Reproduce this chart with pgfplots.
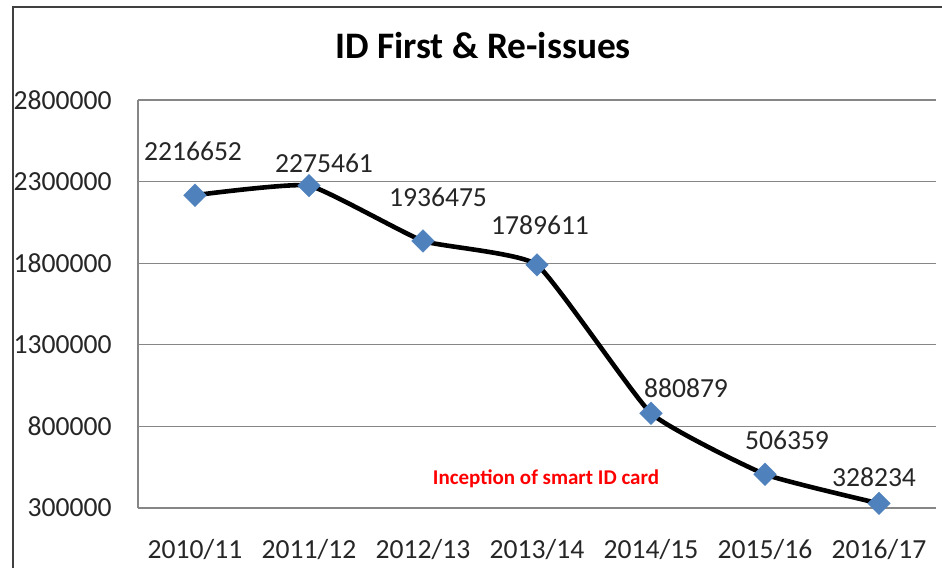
\documentclass[border=0pt]{standalone}
\usepackage{fontspec}
\setmainfont{Carlito}
\usepackage{pgfplots}
\usepackage{pgfplotstable}
\pgfplotsset{compat=1.18}

\definecolor{serblue}{HTML}{4F81BD}
\definecolor{gridgray}{HTML}{868686}

% x, value, label text, label offset (pt)
\pgfplotstableread{
x y lab dx dy
0 2216652 2216652 -1 22
1 2275461 2275461 7.5 11
2 1936475 1936475 7.5 22
3 1789611 1789611 1.5 20
4 880879 880879 17.5 12.5
5 506359 506359 11 17
6 328234 328234 -2.5 13
}\idissues

\begin{document}
\begin{tikzpicture}
\useasboundingbox (0,0) rectangle (471pt,284pt);
\draw[line width=0.8pt, black!75] (6.5pt,0) -- (6.5pt,280.5pt) -- (471pt,280.5pt);

\begin{axis}[
    at={(69pt,30pt)}, anchor=south west,
    scale only axis,
    width=399pt, height=204pt,
    xmin=-0.5, xmax=6.5,
    ymin=300000, ymax=2800000,
    xtick={0,...,6},
    xticklabels={2010/11,2011/12,2012/13,2013/14,2014/15,2015/16,2016/17},
    ytick={300000,800000,1300000,1800000,2300000,2800000},
    scaled y ticks=false,
    /pgf/number format/fixed,
    /pgf/number format/set thousands separator={},
    /pgf/number format/assume math mode=true,
    major tick length=0pt,
    axis x line*=bottom,
    axis y line*=left,
    axis line style={gridgray, line width=0.6pt, -},
    ymajorgrids,
    grid style={gridgray, line width=0.6pt},
    tick label style={font=\fontsize{13.8}{16}\selectfont, text=black!85},
    yticklabel style={anchor=east, inner sep=0pt, xshift=-13pt},
    xticklabel style={anchor=north, inner sep=0pt, yshift=-15.5pt},
    clip=false,
]
\addplot[
    black, line width=2.3pt, smooth, tension=0.25,
    mark=square*, mark size=4pt,
    mark options={solid, rotate=45, fill=serblue, draw=serblue, line width=0.2pt},
    point meta=explicit symbolic,
    visualization depends on={\thisrow{dx} \as \dx},
    visualization depends on={\thisrow{dy} \as \dy},
    nodes near coords,
    every node near coord/.append style={
        anchor=center, inner sep=0pt, text=black!85,
        font=\fontsize{13.8}{16}\selectfont,
        xshift=\dx pt, yshift=\dy pt},
] table[x=x, y=y, meta=lab] {\idissues};
\end{axis}

\node[font=\bfseries\fontsize{18.7}{22}\selectfont] at (241.5pt,261pt) {ID First \& Re-issues};
\node[text=red, font=\bfseries\fontsize{10.5}{12}\selectfont] at (273pt,44.5pt) {Inception of smart ID card};
\end{tikzpicture}
\end{document}
